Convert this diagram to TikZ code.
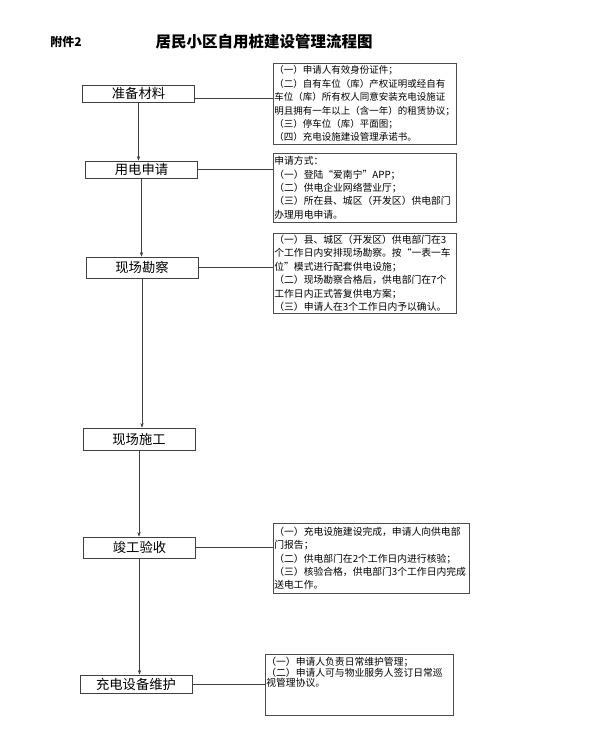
\documentclass[tikz,border=0pt]{standalone}
\usepackage{fontspec}
\setmainfont{Noto Sans CJK SC}
\usetikzlibrary{arrows.meta}
\begin{document}
\begin{tikzpicture}[x=1pt,y=-1pt,
  lbox/.style={draw=black!75, line width=0.7pt, font=\fontsize{13.3}{15}\selectfont, inner sep=0pt, minimum width=112pt},
  rbox/.style={draw=black!70, line width=0.7pt, anchor=north west, inner sep=1pt, align=left, font=\fontsize{9.8}{13.4}\selectfont},
  link/.style={draw=black!75, line width=0.6pt},
  arr/.style={link, -{Stealth[length=4.5pt,width=3.2pt]}}]
\fill[white] (0,0) rectangle (600,745);
\useasboundingbox (0,0) rectangle (600,745);

% titles
\node[font=\bfseries\fontsize{12}{14}\selectfont] (annex) at (66,42) {附件2};
\node[font=\bfseries\fontsize{15.5}{18}\selectfont] (title) at (264,42) {居民小区自用桩建设管理流程图};

% left process boxes
\node[lbox, minimum height=17pt] (prep) at (138.5,93.5) {准备材料};
\node[lbox, minimum height=17pt] (apply) at (141.5,169.5) {用电申请};
\node[lbox, minimum height=21pt] (survey) at (142,267.5) {现场勘察};
\node[lbox, minimum height=22pt] (build) at (139,439) {现场施工};
\node[lbox, minimum height=21pt] (accept) at (139.5,547.5) {竣工验收};
\node[lbox, minimum height=18pt] (maint) at (136,684) {充电设备维护};

% right description boxes
\node[rbox, font=\fontsize{9.5}{13.4}\selectfont, text width=181pt, minimum height=81pt] (r1) at (273,63) {%
（一）申请人有效身份证件；\\
（二）自有车位（库）产权证明或经自有\\
车位（库）所有权人同意安装充电设施证\\
明且拥有一年以上（含一年）的租赁协议；\\
（三）停车位（库）平面图；\\
（四）充电设施建设管理承诺书。};

\node[rbox, text width=181pt, minimum height=69pt] (r2) at (273,153) {%
申请方式：\\
（一）登陆“爱南宁”APP；\\
（二）供电企业网络营业厅；\\
（三）所在县、城区（开发区）供电部门\\
办理用电申请。};

\node[rbox, text width=181pt, minimum height=80pt] (r3) at (273,233) {%
（一）县、城区（开发区）供电部门在3\\
个工作日内安排现场勘察。按“一表一车\\
位”模式进行配套供电设施；\\
（二）现场勘察合格后，供电部门在7个\\
工作日内正式答复供电方案；\\
（三）申请人在3个工作日内予以确认。};

\node[rbox, text width=194pt, minimum height=70pt] (r4) at (273,523) {%
（一）充电设施建设完成，申请人向供电部\\
门报告；\\
（二）供电部门在2个工作日内进行核验；\\
（三）核验合格，供电部门3个工作日内完成\\
送电工作。};

\node[rbox, align=none, font=\fontsize{9.8}{9.8}\selectfont] (r5) at (265,654) {%
\parbox[t][59pt][t]{186pt}{%
\vspace*{2pt}%
（一）申请人负责日常维护管理；\\
（二）申请人可与物业服务人签订日常巡\\
视管理协议。}};

% vertical arrows
\draw[arr] (prep.south) -- (prep.south |- apply.north);
\draw[arr] (apply.south) -- (apply.south |- survey.north);
\draw[arr] (survey.south) -- (survey.south |- build.north);
\draw[arr] (build.south) -- (build.south |- accept.north);
\draw[arr] (accept.south) -- (accept.south |- maint.north);

% horizontal connectors
\draw[link] ([yshift=-4.5pt]prep.east) -- ([yshift=-4.5pt]prep.east -| r1.west);
\draw[link] (apply.east) -- (apply.east -| r2.west);
\draw[link] (survey.east) -- (survey.east -| r3.west);
\draw[link] (accept.east) -- (accept.east -| r4.west);
\draw[link] (maint.east) -- (maint.east -| r5.west);
\end{tikzpicture}
\end{document}
